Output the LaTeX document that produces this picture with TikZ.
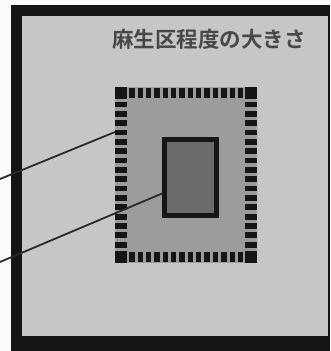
\documentclass[tikz,border=0pt]{standalone}
\usepackage{fontspec}
\newfontfamily\cjk{Noto Sans CJK JP Bold}
\usetikzlibrary{calc}
\definecolor{bgwhite}{HTML}{FAFAFA}
\definecolor{framec}{HTML}{151515}
\definecolor{paper}{HTML}{C6C6C6}
\definecolor{pkgc}{HTML}{9C9C9C}
\definecolor{chipc}{HTML}{6B6B6B}
\definecolor{padc}{HTML}{161616}
\definecolor{titlec}{HTML}{484848}
\definecolor{leadc}{HTML}{2A2A2A}
\tikzset{
  padbox/.style={fill=padc, draw=none},
  leader/.style={draw=leadc, line width=1.8pt},
  blank/.style={inner sep=0pt, outer sep=0pt, anchor=north west}
}
\begin{document}
\begin{tikzpicture}[x=1pt,y=-1pt]
\useasboundingbox (0,0) rectangle (331,351);
\fill[bgwhite] (0,0) rectangle (331,351);
% frame
\fill[framec] (11,5) rectangle (330,351);
\fill[paper] (22,16) rectangle (328,336);
% title
\node[text=titlec, font=\cjk\fontsize{21.5}{23}\selectfont, inner sep=0pt] (title) at (209,39) {麻生区程度の大きさ};
% package
\node[blank, fill=pkgc, minimum width=142pt, minimum height=176pt] (pkg) at (115,87) {};
% corner pads
\foreach \cx/\cy in {115/87, 245/87, 115/251, 245/251}
  \fill[padc] (\cx,\cy) rectangle ++(12,12);
% top and bottom pads
\foreach \i in {0,...,13} {
  \pgfmathsetmacro{\px}{129.2+\i*8.36}
  \fill[padc] (\px,88) rectangle ++(5.4,10);
  \fill[padc] (\px,252) rectangle ++(5.4,10);
}
% left and right pads
\foreach \i in {0,...,15} {
  \pgfmathsetmacro{\py}{101.5+\i*9.35}
  \fill[padc] (115,\py) rectangle ++(12,5.8);
  \fill[padc] (245,\py) rectangle ++(12,5.8);
}
% chip
\node[blank, fill=chipc, draw=padc, line width=5pt, minimum width=52pt, minimum height=76pt] (chip) at (164.5,139.5) {};
% leaders
\coordinate (l1) at (0,179);
\coordinate (l2) at (0,262);
\draw[leader] (l1) -- ($(pkg.north west)+(0,45)$);
\draw[leader] (l2) -- ($(chip.west)+(-2.5,16)$);
\end{tikzpicture}
\end{document}
